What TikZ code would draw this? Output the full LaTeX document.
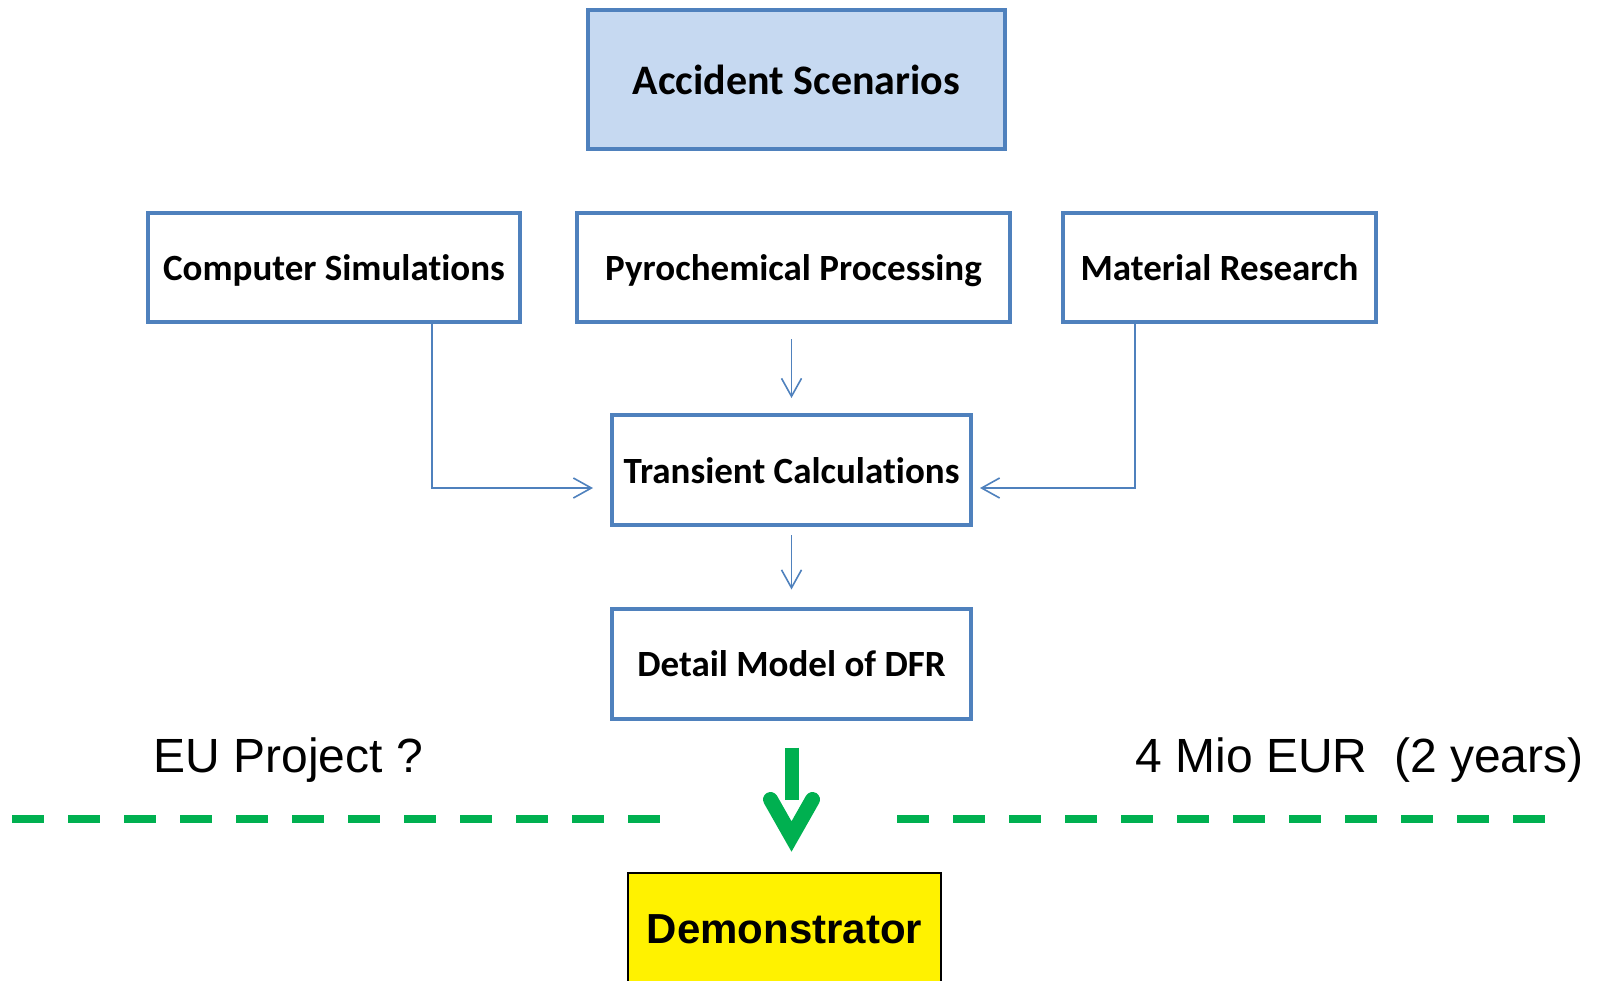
\documentclass[tikz,border=0pt]{standalone}
\usepackage{fontspec}
\setmainfont{Liberation Sans}
\newfontfamily\boxfont[Ligatures=NoCommon]{Carlito}
\usetikzlibrary{calc,arrows.meta}
\definecolor{boxblue}{HTML}{4F81BD}
\definecolor{scenfill}{HTML}{C6D9F1}
\definecolor{eugreen}{HTML}{00B050}
\begin{document}
\begin{tikzpicture}[x=0.5pt,y=-0.5pt,
  blk/.style={draw=boxblue,line width=2pt,inner sep=0pt,minimum height=54.5pt,text height=13pt,text depth=0pt,font=\boxfont\bfseries\fontsize{18.5}{22}\selectfont},
  flow/.style={draw=boxblue,line width=0.8pt,-{Straight Barb[length=9pt,width=10pt]}},
  dashline/.style={draw=eugreen,line width=3.75pt,dash pattern=on 16pt off 12pt},
  txt/.style={inner sep=0pt,font=\fontsize{24}{28}\selectfont}]
                      \useasboundingbox (0,0) rectangle (1600,980);
                      % boxes
                      \node[blk,fill=scenfill,minimum width=208.5pt,minimum height=69.5pt,text height=14.7pt,font=\boxfont\bfseries\fontsize{21}{25}\selectfont](scen)at(796.5,79.5){Accident Scenarios};
                      \node[blk,minimum width=186pt](comp)at(334,267.5){Computer Simulations};
                      \node[blk,minimum width=216.5pt](pyro)at(793.5,267.5){Pyrochemical Processing};
                      \node[blk,minimum width=156.5pt](mat)at(1219.5,267.5){Material Research};
                      \node[blk,minimum width=179.5pt,minimum height=55pt](trans)at(791.5,470){Transient Calculations};
                      \node[blk,minimum width=179.5pt,minimum height=55pt](detail)at(791.5,663.5){Detail Model of DFR};
                      \node[draw,line width=1pt,fill=yellow,inner sep=0pt,minimum width=156.5pt,minimum height=56pt,font=\bfseries\fontsize{21}{25}\selectfont](demo)at(784.5,929){Demonstrator};
                      % arrows
                      \draw[flow,shorten <=7.5pt,shorten >=7.5pt](trans.north|-pyro.south)--(trans.north);
                      \draw[flow,shorten <=4pt,shorten >=8.5pt](trans.south)--(detail.north);
                      \draw[flow,shorten >=8.5pt]([xshift=49pt]comp.south)|-([yshift=-9pt]trans.west);
                      \draw[flow,shorten >=3.5pt]([xshift=-42.25pt]mat.south)|-([yshift=-9pt]trans.east);
                      % green arrow and line
                      \coordinate(gtop)at($(detail.south)+(0,27)$);
                      \draw[eugreen,line width=7pt](gtop)--++(0,52);
                      \draw[eugreen,line width=7.5pt,line cap=round,miter limit=10]($(gtop)+(-21,52)$)--++(21,37)--++(21,-37);
                      \draw[dashline](12,819)--(660,819);
                      \draw[dashline](897,819)--(1545,819);
                      \node[txt,anchor=base west](eu)at(153,772){EU Project ?};
                      \node[txt,anchor=base east](cost)at(1584,772){4 Mio EUR\ \ (2 years)};
                  \end{tikzpicture}
\end{document}
